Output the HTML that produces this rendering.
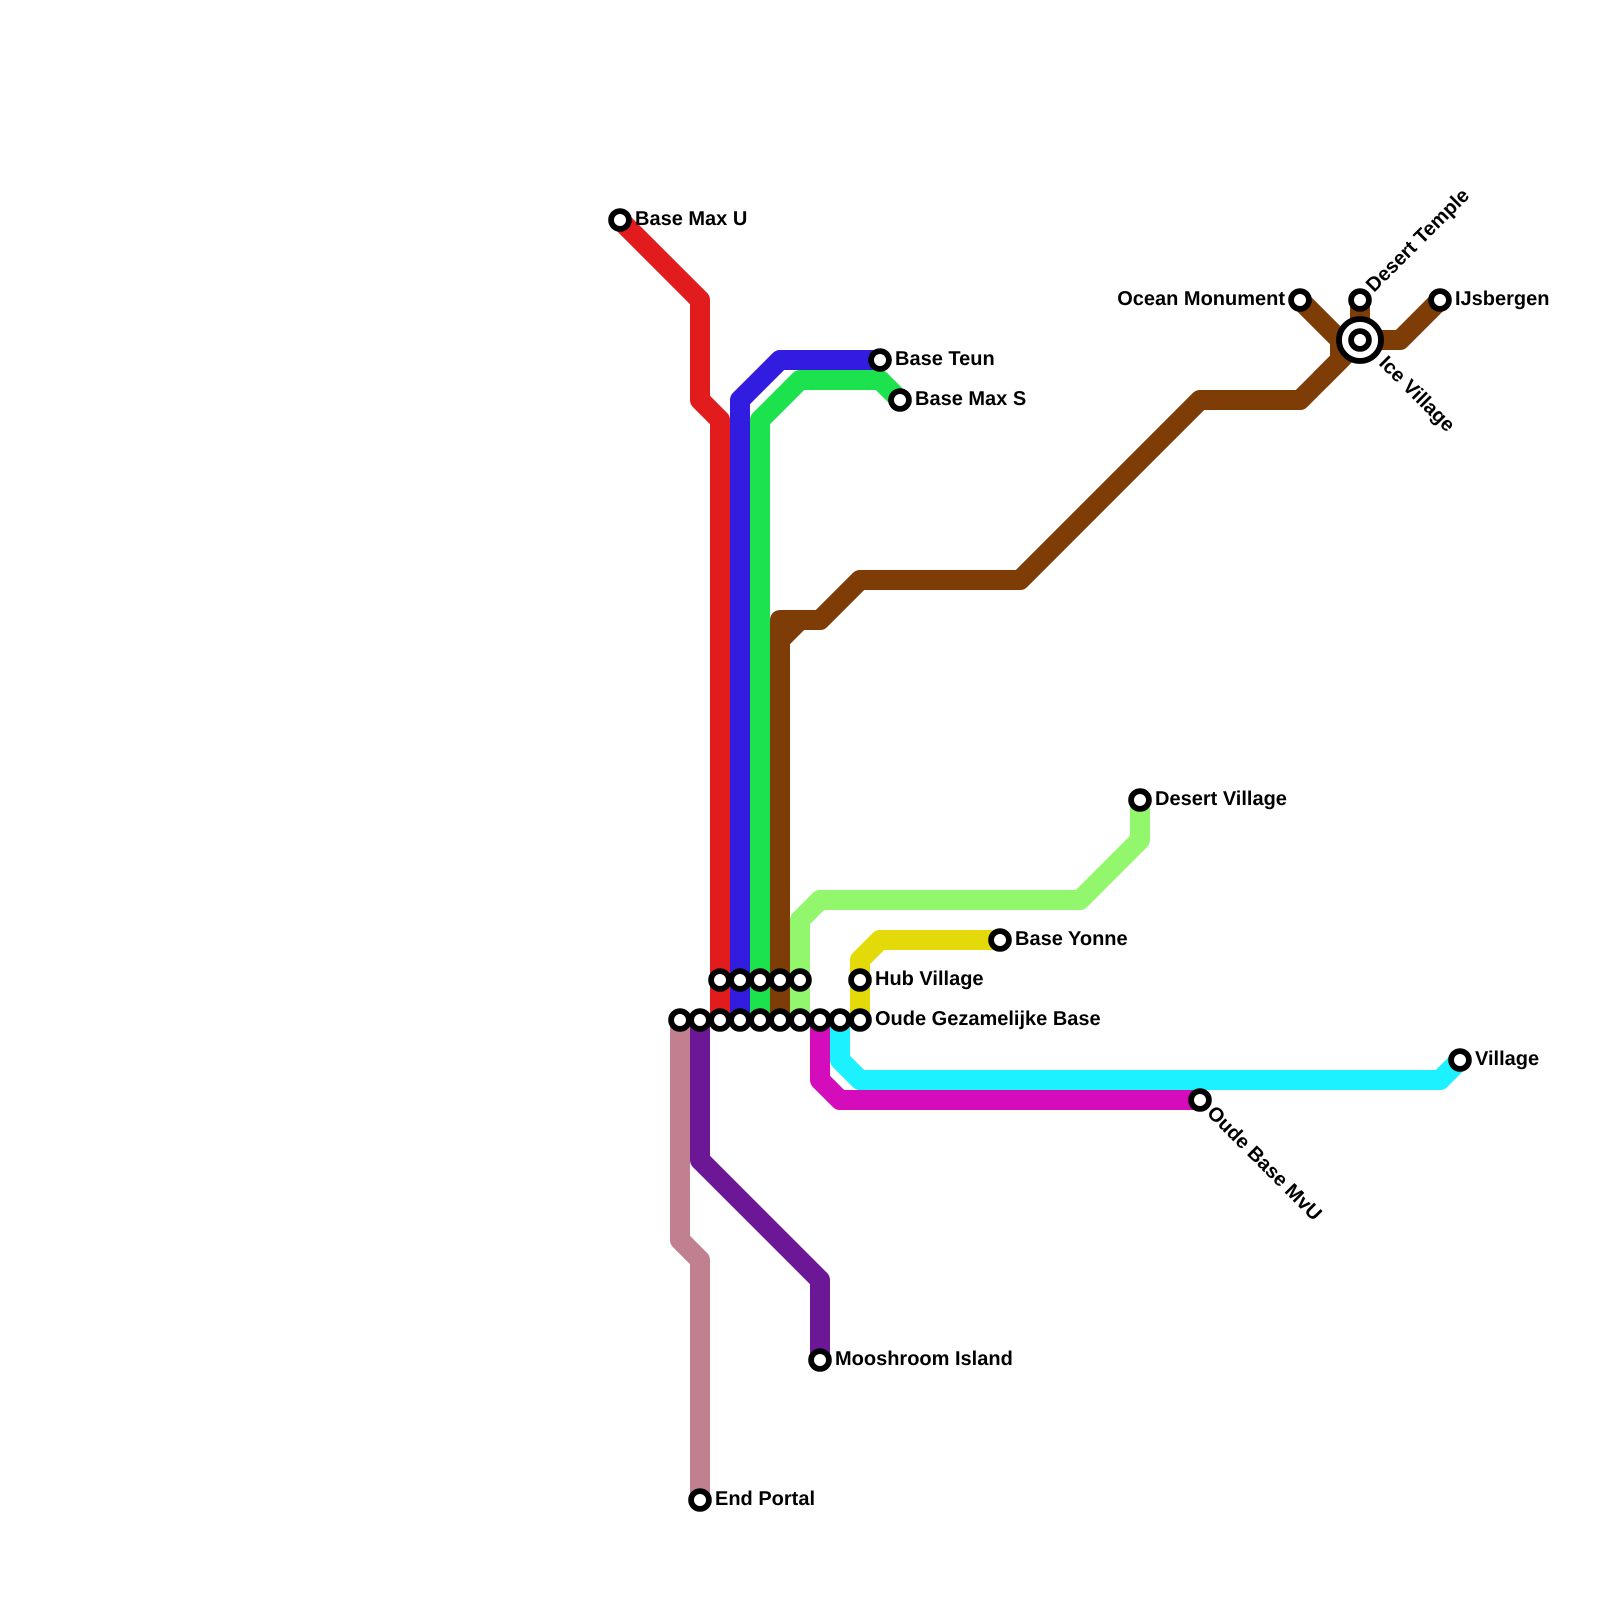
<!DOCTYPE html>
<html>
<head>
<meta charset="utf-8">
<style>
html,body{margin:0;padding:0;background:#fff}
svg{display:block}
text{font-family:"Liberation Sans",Arial,sans-serif;font-weight:bold;font-size:20px;fill:#000;text-rendering:geometricPrecision}
.l{fill:none;stroke-width:20;stroke-linejoin:round;stroke-linecap:butt}
.s{fill:#fff;stroke:#000;stroke-width:5.8}
</style>
</head>
<body>
<svg width="1600" height="1600" viewBox="0 0 1600 1600" xmlns="http://www.w3.org/2000/svg">
<rect width="1600" height="1600" fill="#fff"/>
<polyline class="l" stroke="#e21c1c" points="620,220 700,300 700,400 720,420 720,1020"/>
<polyline class="l" stroke="#321cdf" points="880,360 780,360 740,400 740,1020"/>
<polyline class="l" stroke="#1ce24e" points="900,400 880,380 800,380 760,420 760,1020"/>
<g stroke="#7e3d07">
<polyline class="l" points="780,1020 780,620 820,620 860,580 1020,580 1200,400 1300,400 1360,340"/>
<polyline class="l" points="780,640 800,620"/>
<polyline class="l" points="1300,300 1340,340 1340,360 1320,380"/>
<polyline class="l" points="1360,300 1360,340 1400,340 1440,300"/>
</g>
<polyline class="l" stroke="#92f76c" points="1140,800 1140,840 1080,900 820,900 800,920 800,1020"/>
<polyline class="l" stroke="#e4da09" points="1000,940 880,940 860,960 860,1020"/>
<polyline class="l" stroke="#1cf2ff" points="1460,1060 1440,1080 860,1080 840,1060 840,1020"/>
<polyline class="l" stroke="#d50cbb" points="1200,1100 840,1100 820,1080 820,1020"/>
<polyline class="l" stroke="#c08090" points="700,1500 700,1260 680,1240 680,1020"/>
<polyline class="l" stroke="#6c1896" points="820,1360 820,1280 700,1160 700,1020"/>

<circle class="s" cx="620" cy="220" r="8.9"/>
<circle class="s" cx="880" cy="360" r="8.9"/>
<circle class="s" cx="900" cy="400" r="8.9"/>
<circle class="s" cx="1300" cy="300" r="8.9"/>
<circle class="s" cx="1360" cy="300" r="8.9"/>
<circle class="s" cx="1440" cy="300" r="8.9"/>
<circle class="s" cx="1360" cy="340" r="21"/>
<circle class="s" cx="1360" cy="340" r="8.9"/>
<circle class="s" cx="1140" cy="800" r="8.9"/>
<circle class="s" cx="1000" cy="940" r="8.9"/>
<circle class="s" cx="720" cy="980" r="8.9"/>
<circle class="s" cx="740" cy="980" r="8.9"/>
<circle class="s" cx="760" cy="980" r="8.9"/>
<circle class="s" cx="780" cy="980" r="8.9"/>
<circle class="s" cx="800" cy="980" r="8.9"/>
<circle class="s" cx="860" cy="980" r="8.9"/>
<circle class="s" cx="680" cy="1020" r="8.9"/>
<circle class="s" cx="700" cy="1020" r="8.9"/>
<circle class="s" cx="720" cy="1020" r="8.9"/>
<circle class="s" cx="740" cy="1020" r="8.9"/>
<circle class="s" cx="760" cy="1020" r="8.9"/>
<circle class="s" cx="780" cy="1020" r="8.9"/>
<circle class="s" cx="800" cy="1020" r="8.9"/>
<circle class="s" cx="820" cy="1020" r="8.9"/>
<circle class="s" cx="840" cy="1020" r="8.9"/>
<circle class="s" cx="860" cy="1020" r="8.9"/>
<circle class="s" cx="1460" cy="1060" r="8.9"/>
<circle class="s" cx="1200" cy="1100" r="8.9"/>
<circle class="s" cx="820" cy="1360" r="8.9"/>
<circle class="s" cx="700" cy="1500" r="8.9"/>

<text x="635" y="225">Base Max U</text>
<text x="895" y="365">Base Teun</text>
<text x="915" y="405">Base Max S</text>
<text x="1285" y="305" text-anchor="end">Ocean Monument</text>
<text x="1455" y="305">IJsbergen</text>
<text transform="translate(1374,293) rotate(-45)">Desert Temple</text>
<text transform="translate(1378,364) rotate(45)">Ice Village</text>
<text x="1155" y="805">Desert Village</text>
<text x="1015" y="945">Base Yonne</text>
<text x="875" y="985">Hub Village</text>
<text x="875" y="1025">Oude Gezamelijke Base</text>
<text x="1475" y="1065">Village</text>
<text transform="translate(1206,1114) rotate(45)">Oude Base MvU</text>
<text x="835" y="1365">Mooshroom Island</text>
<text x="715" y="1505">End Portal</text>
</svg>
</body>
</html>
